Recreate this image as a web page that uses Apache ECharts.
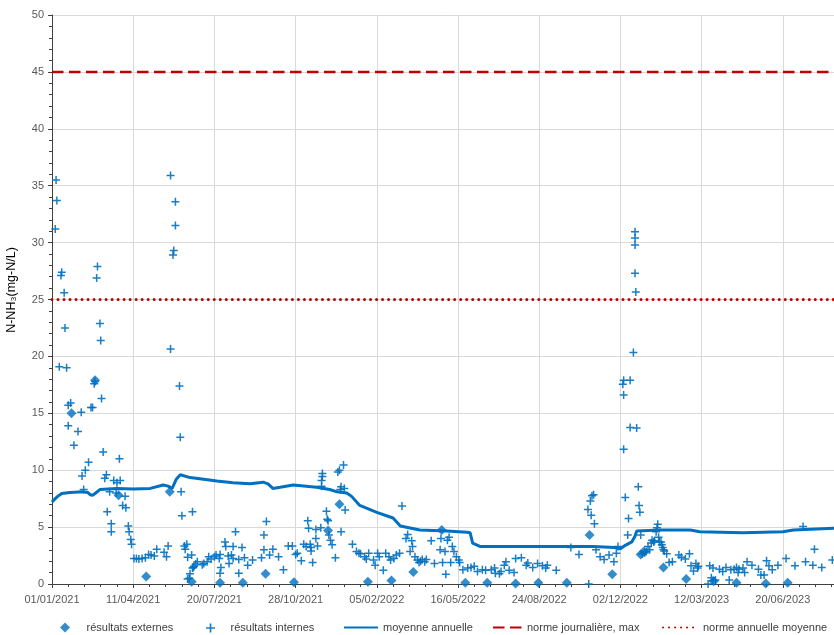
<!DOCTYPE html>
<html>
<head>
<meta charset="utf-8">
<script src="https://cdn.jsdelivr.net/npm/echarts@6/dist/echarts.min.js"></script>
<style>
  html, body { margin: 0; padding: 0; background: #fff; }
  #chart { width: 834px; height: 635px; }
</style>
</head>
<body>
<div id="chart"></div>
<script>
// x values are days counted from 01/01/2021
const START_DATE = Date.UTC(2021, 0, 1);
const X_MAX_DAY = 1000;
const X_TICK_DAYS = 100;

const Y_MIN = 0;
const Y_MAX = 50;
const Y_TICK = 5;

// regulatory limits (mg-N/L)
const dailyLimit = 45;
const annualLimit = 25;

// external laboratory results [day, mg-N/L]
const externalResults = [
  [24, 15.0], [53, 17.9], [82, 7.8], [116, 0.65], [145, 8.1], [172, 0.2], [207, 0.1],
  [235, 0.1], [263, 0.9], [298, 0.15], [340, 4.7], [354, 7.0], [389, 0.2], [418, 0.3],
  [445, 1.05], [480, 4.75], [509, 0.1], [536, 0.1], [571, 0.05], [599, 0.1], [634, 0.1],
  [662, 4.3], [690, 0.85], [725, 2.6], [729, 2.85], [753, 1.45], [781, 0.45], [815, 0.25],
  [843, 0.1], [879, 0.05], [906, 0.1]
];

// internal results [day, mg-N/L]
const internalResults = [
  [4, 31.2], [5, 35.5], [6, 33.7], [9, 19.1], [11, 27.1], [12, 27.4], [15, 25.6], [16, 22.5], [18, 19.0],
  [20, 15.7], [20, 13.9], [23, 15.9], [27, 12.2], [32, 13.4], [36, 15.1], [37, 9.5], [39, 8.3], [41, 10.0], [45, 10.7],
  [48, 15.5], [50, 15.5], [52, 17.6], [53, 17.8], [55, 26.9], [56, 27.9], [59, 22.9], [60, 21.4], [61, 16.3], [63, 11.6],
  [65, 9.3], [67, 9.6], [68, 6.35], [71, 8.1], [73, 5.3], [73, 4.6], [76, 9.1], [79, 8.0], [80, 8.9], [83, 11.0], [84, 9.1],
  [87, 6.9], [90, 7.7], [91, 6.7], [94, 5.1], [95, 4.6], [97, 3.9], [98, 3.5],
  [101, 2.25], [104, 2.25], [107, 2.2], [111, 2.25], [115, 2.3], [119, 2.6], [122, 2.55], [126, 2.45], [129, 3.05],
  [138, 2.8], [141, 2.4], [143, 3.35],
  [146, 35.9], [146, 20.65], [149, 28.9], [150, 29.3], [152, 31.5], [152, 33.6], [157, 17.4], [158, 12.9], [159, 8.1], [160, 6.0],
  [163, 3.35], [164, 3.05], [166, 3.5], [167, 2.35], [167, 0.45], [169, 0.5], [170, 0.9], [172, 2.55], [173, 1.4], [173, 6.35],
  [174, 1.45], [175, 1.55], [177, 1.75], [179, 1.95],
  [185, 1.7], [187, 1.8], [191, 1.95], [193, 2.4], [196, 2.2], [200, 2.4], [202, 2.55], [206, 2.25], [207, 2.6], [207, 0.95], [208, 1.45],
  [213, 3.7], [214, 3.3], [217, 2.45], [218, 1.8], [221, 2.55], [223, 3.3], [223, 2.25], [226, 4.6], [230, 2.15], [230, 0.95],
  [234, 3.2], [237, 2.3],
  [241, 1.65], [247, 2.1], [258, 2.3], [261, 4.3], [261, 3.0], [264, 5.5], [268, 2.55], [272, 3.05], [279, 2.4], [285, 1.25],
  [291, 3.35], [296, 3.35], [300, 2.6], [302, 2.7], [307, 2.05], [310, 3.5], [313, 3.3], [315, 5.55], [316, 4.9], [318, 3.5],
  [319, 3.2], [319, 2.9], [321, 1.9],
  [325, 4.8], [325, 4.0], [327, 3.35], [331, 4.95], [332, 8.6], [332, 9.1], [333, 9.45], [333, 9.7], [338, 6.4], [339, 5.7],
  [340, 5.55], [341, 4.3], [343, 3.85], [345, 3.45], [349, 2.3],
  [352, 9.85], [354, 10.0], [355, 8.3], [356, 8.55], [356, 4.6], [359, 10.45], [360, 8.4], [361, 6.5],
  [370, 3.5], [375, 2.85], [378, 2.7], [380, 2.65], [385, 2.4], [387, 2.2], [390, 2.7], [396, 2.1], [398, 1.65],
  [401, 2.7], [403, 2.4], [408, 1.2], [411, 2.7], [415, 2.4], [417, 2.1], [421, 2.25], [424, 2.55], [428, 2.7], [431, 6.85],
  [436, 4.0], [438, 4.35], [441, 2.85], [443, 3.8], [444, 3.3], [447, 2.4], [450, 2.1], [452, 1.9], [454, 2.0], [456, 2.15],
  [459, 1.95], [461, 2.15],
  [467, 3.8], [471, 1.8], [478, 3.0], [479, 4.0], [481, 1.9], [484, 2.85], [485, 0.85], [487, 3.85], [489, 4.1], [491, 1.9],
  [493, 3.3], [495, 2.85], [498, 2.4], [501, 2.1], [502, 1.9],
  [506, 1.25], [512, 1.4], [516, 1.45], [520, 1.55], [524, 1.1], [530, 1.25], [534, 1.2], [541, 1.25], [545, 1.4], [546, 0.95],
  [551, 0.9], [553, 1.1], [557, 1.65], [559, 1.95],
  [563, 1.2], [569, 1.0], [571, 2.25], [578, 2.3], [584, 1.65], [586, 1.85], [592, 1.45], [598, 1.8], [604, 1.6], [608, 1.4],
  [610, 1.65], [621, 1.2],
  [639, 3.2], [649, 2.6], [660, 6.55], [661, 0], [663, 7.3], [664, 6.05], [665, 7.75], [667, 7.85], [668, 5.3],
  [670, 3.0], [675, 2.4], [680, 2.15], [686, 2.55], [692, 1.95], [695, 2.7], [697, 3.3],
  [703, 17.55], [704, 17.9], [704, 16.6], [704, 11.85], [706, 7.6], [709, 4.3], [710, 5.75], [712, 17.9], [712, 13.75], [716, 20.35],
  [718, 30.95], [718, 30.4], [718, 29.8], [718, 27.3], [719, 25.65], [720, 13.7], [722, 8.55], [723, 6.9], [724, 6.3], [725, 4.3],
  [727, 2.65], [730, 2.75], [732, 2.85], [734, 3.3], [736, 3.0], [738, 3.6], [739, 3.85], [741, 3.7], [742, 3.8], [744, 4.6],
  [745, 4.95], [746, 5.25], [747, 4.1], [748, 3.7],
  [750, 3.7], [751, 3.45], [752, 3.2], [753, 3.0], [754, 2.9], [757, 2.65], [760, 1.9], [764, 1.95],
  [772, 2.55], [775, 2.35], [780, 2.2], [785, 2.65], [787, 1.6], [790, 1.15], [793, 1.8], [795, 1.4], [796, 1.55],
  [808, 0], [810, 1.6], [812, 0.55], [814, 1.4], [814, 0.3], [817, 0.35], [822, 1.3], [826, 1.1], [830, 1.45], [834, 0.35],
  [836, 1.25], [840, 1.3], [843, 1.45], [845, 1.0], [846, 1.3],
  [851, 1.4], [853, 1.0], [856, 1.95], [862, 1.65], [870, 1.3], [873, 0.8], [877, 0.8], [880, 2.05], [883, 1.6], [887, 1.25],
  [894, 1.65], [904, 2.25], [915, 1.6], [925, 5.05], [928, 1.95], [937, 1.65], [939, 3.05], [948, 1.45], [961, 2.1]
];

// rolling annual mean [day, mg-N/L]
const annualMean = [
  [0, 7.2], [4, 7.5], [7, 7.7], [12, 7.95], [22, 8.05], [38, 8.1], [44, 8.05], [47, 7.85], [50, 7.8], [53, 7.95],
  [59, 8.3], [80, 8.4], [100, 8.35], [121, 8.4], [137, 8.7], [143, 8.6], [148, 8.4], [153, 9.2], [158, 9.6],
  [170, 9.35], [182, 9.25], [203, 9.05], [223, 8.9], [244, 8.8], [260, 8.95], [266, 8.8], [272, 8.4], [281, 8.5],
  [297, 8.7], [326, 8.5], [342, 8.3], [351, 8.1], [363, 8.0], [369, 7.7], [379, 6.9], [400, 6.3], [420, 5.8],
  [429, 5.1], [453, 4.75], [486, 4.65], [511, 4.55], [515, 4.5], [518, 3.6], [527, 3.3], [600, 3.3], [666, 3.3],
  [693, 3.2], [700, 3.1], [706, 3.4], [714, 3.7], [718, 4.2], [720, 4.65], [749, 4.75], [786, 4.75], [798, 4.6],
  [851, 4.5], [900, 4.6], [913, 4.75], [963, 4.9], [975, 4.9]
];

const BLUE = '#0070C0';
const RED = '#C00000';
const PLUS = 'path://M3.25,0h1.5v3.25h3.25v1.5h-3.25v3.25h-1.5v-3.25h-3.25v-1.5h3.25z';
const DIAMOND = 'path://M5,0L10,5L5,10L0,5Z';
const DASH = [11.5, 5.5];

function dayLabel(d) {
  const t = new Date(START_DATE + d * 86400000);
  const p = n => String(n).padStart(2, '0');
  return p(t.getUTCDate()) + '/' + p(t.getUTCMonth() + 1) + '/' + t.getUTCFullYear();
}

const legendText = { color: '#404040', fontSize: 11 };
const LEGEND_MID = 627;
function legendAt(name, left, width, height, extra) {
  return Object.assign({
    data: [name], left: left, top: LEGEND_MID - height / 2, padding: 0,
    itemWidth: width, itemHeight: height, textStyle: legendText
  }, extra || {});
}

const chart = echarts.init(document.getElementById('chart'), null, { renderer: 'canvas' });
chart.setOption({
  animation: false,
  textStyle: { fontFamily: '"Liberation Sans", Arial, sans-serif' },
  // the time axis runs on past the right edge of the canvas
  grid: { left: 52, width: 812, top: 15, bottom: 51, containLabel: false, outerBoundsMode: 'none' },
  xAxis: {
    type: 'value', min: 0, max: X_MAX_DAY, interval: X_TICK_DAYS,
    axisLine: { onZero: false, lineStyle: { color: '#404040', width: 1 } },
    axisTick: { show: true, length: 4, lineStyle: { color: '#404040' } },
    minorTick: { show: true, splitNumber: 5, length: 3, lineStyle: { color: '#404040' } },
    splitLine: { show: true, lineStyle: { color: '#D9D9D9', width: 1 } },
    axisLabel: { formatter: dayLabel, color: '#595959', fontSize: 11, margin: 10 }
  },
  yAxis: {
    type: 'value', min: Y_MIN, max: Y_MAX, interval: Y_TICK,
    axisLine: { show: true, lineStyle: { color: '#404040', width: 1 } },
    axisTick: { show: true, length: 4, lineStyle: { color: '#404040' } },
    minorTick: { show: true, splitNumber: 5, length: 3, lineStyle: { color: '#404040' } },
    splitLine: { show: true, lineStyle: { color: '#D9D9D9', width: 1 } },
    axisLabel: { color: '#595959', fontSize: 11, margin: 8 }
  },
  graphic: [{
    type: 'text', x: 12, y: 290, rotation: Math.PI / 2,
    style: {
      text: 'N-NH₃(mg-N/L)', fill: '#000', fontSize: 12.5,
      fontFamily: '"Liberation Sans", Arial, sans-serif',
      align: 'center', verticalAlign: 'middle'
    }
  }],
  legend: [
    legendAt('résultats externes', 60, 33, 10),
    legendAt('résultats internes', 206, 30, 9),
    legendAt('moyenne annuelle', 343, 34, 10, { itemStyle: { opacity: 0 } }),
    legendAt('norme journalière, max', 492, 29, 10, { itemStyle: { opacity: 0 } }),
    legendAt('norme annuelle moyenne', 662, 35, 10, { itemStyle: { opacity: 0 } })
  ],
  series: [
    {
      name: 'norme journalière, max', type: 'line', symbol: 'none',
      data: [[0, dailyLimit], [X_MAX_DAY, dailyLimit]],
      lineStyle: { color: RED, width: 2.5, type: DASH }, itemStyle: { color: RED }
    },
    {
      name: 'norme annuelle moyenne', type: 'line', symbol: 'none',
      data: [[0, annualLimit], [X_MAX_DAY, annualLimit]],
      lineStyle: { color: RED, width: 3, type: [0.01, 6], cap: 'round' }, itemStyle: { color: RED }
    },
    {
      name: 'résultats internes', type: 'scatter', symbol: PLUS, symbolSize: 8,
      itemStyle: { color: BLUE, opacity: 0.9 }, data: internalResults
    },
    {
      name: 'résultats externes', type: 'scatter', symbol: DIAMOND, symbolSize: 10,
      itemStyle: { color: BLUE }, data: externalResults
    },
    {
      name: 'moyenne annuelle', type: 'line', symbol: 'none', data: annualMean,
      lineStyle: { color: BLUE, width: 3 }, itemStyle: { color: BLUE }
    }
  ]
});
</script>
</body>
</html>
